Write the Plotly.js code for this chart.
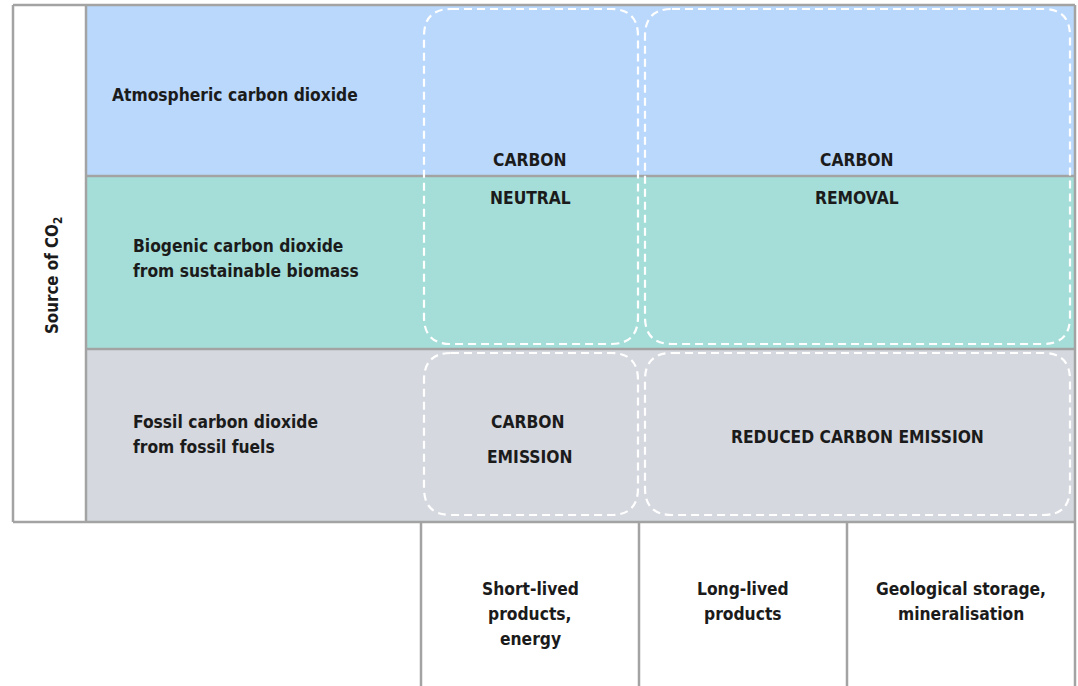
<!DOCTYPE html>
<html>
<head>
<meta charset="utf-8">
<script src="https://cdn.plot.ly/plotly-3.0.1.min.js"></script>
<style>
  html, body { margin: 0; padding: 0; background: #ffffff; }
  #chart { width: 1078px; height: 686px; }
</style>
</head>
<body>
<div id="chart"></div>
<script>
// ---- content (categories / labels) ----
const axisTitle = "Source of CO<sub>2</sub>";
const sources = [
  ["Atmospheric carbon dioxide"],
  ["Biogenic carbon dioxide", "from sustainable biomass"],
  ["Fossil carbon dioxide", "from fossil fuels"]
];
const sinks = [
  ["Short-lived", "products,", "energy"],
  ["Long-lived", "products"],
  ["Geological storage,", "mineralisation"]
];
const outcomeNeutral = ["CARBON", "NEUTRAL"];
const outcomeRemoval = ["CARBON", "REMOVAL"];
const outcomeEmission = ["CARBON", "EMISSION"];
const outcomeReduced = ["REDUCED CARBON EMISSION"];

// ---- layout geometry (pixel grid of the diagram) ----
const W = 1078, H = 686;
const frameL = 13, frameT = 5, frameR = 1075, frameB = 522;
const labelColR = 86;
const rowEdges = [5, 176, 349, 522];
const sinkEdges = [421, 639, 847, 1075];
const rowColors = ["#bad8fc", "#a5ded9", "#d5d8df"];
const gridColor = "#a3a3a3";
const textColor = "#1b1b1b";
const lineGap = 25;

// ---- pick the narrowest available bold sans font and size it to the reference ----
const ctx = document.createElement("canvas").getContext("2d");
function measure(font) { ctx.font = font; return ctx.measureText(sources[0][0]).width; }
function hasFont(f) {
  return measure(`bold 20px monospace`) !== measure(`bold 20px "${f}", monospace`) ||
         measure(`bold 20px serif`) !== measure(`bold 20px "${f}", serif`);
}
const candidates = ["Liberation Sans Narrow", "DejaVu Sans Condensed", "Arial Narrow",
                    "Roboto Condensed", "Liberation Sans", "Roboto"];
let family = "Liberation Sans";
for (const c of candidates) { if (hasFont(c)) { family = c; break; } }
const refWidth = 246;   // width of "Atmospheric carbon dioxide" in the reference
let base = 20 * refWidth / measure(`bold 20px "${family}"`);
base = Math.max(15, Math.min(21, base));
const FONT = `${family}, Liberation Sans, sans-serif`;

const shapes = [];
const annotations = [];

// row fills
sources.forEach((s, i) => {
  shapes.push({type: "rect", xref: "x", yref: "y", layer: "below",
    x0: labelColR, x1: frameR, y0: rowEdges[i], y1: rowEdges[i + 1],
    fillcolor: rowColors[i], line: {width: 0}});
});

// frame and grid lines
const line = (x0, y0, x1, y1) => shapes.push({type: "line", xref: "x", yref: "y",
  x0, y0, x1, y1, line: {color: gridColor, width: 2.5}});
line(frameL, frameT, frameR, frameT);
line(frameL, frameB, frameR, frameB);
line(frameL, frameT, frameL, frameB);
line(frameR, frameT, frameR, H);
line(labelColR, frameT, labelColR, frameB);
line(labelColR, rowEdges[1], frameR, rowEdges[1]);
line(labelColR, rowEdges[2], frameR, rowEdges[2]);
sinkEdges.slice(0, 3).forEach(x => line(x, frameB, x, H));

// dashed rounded boxes
function rounded(x0, y0, x1, y1, r) {
  return `M${x0 + r},${y0} L${x1 - r},${y0} Q${x1},${y0} ${x1},${y0 + r} ` +
         `L${x1},${y1 - r} Q${x1},${y1} ${x1 - r},${y1} L${x0 + r},${y1} ` +
         `Q${x0},${y1} ${x0},${y1 - r} L${x0},${y0 + r} Q${x0},${y0} ${x0 + r},${y0} Z`;
}
const boxes = [
  [424, 9, 638, 344],
  [645, 9, 1070, 344],
  [424, 353, 638, 515],
  [645, 353, 1070, 515]
];
boxes.forEach(b => shapes.push({type: "path", xref: "x", yref: "y",
  path: rounded(b[0], b[1], b[2], b[3], 27),
  line: {color: "#ffffff", width: 2.2, dash: "8px,5px"}}));

// text helpers
function txt(text, x, y, opts) {
  annotations.push(Object.assign({
    text, x, y, xref: "x", yref: "y", showarrow: false,
    xanchor: "center", yanchor: "middle", align: "center",
    font: {family: FONT, size: base, color: textColor, weight: 700}
  }, opts || {}));
}
function block(lines, x, yFirst, opts) {
  lines.forEach((l, k) => txt(l, x, yFirst + k * lineGap, opts));
}

// source labels
block(sources[0], 110, 95, {xanchor: "left", align: "left"});
block(sources[1], 131, 246, {xanchor: "left", align: "left"});
block(sources[2], 131, 422, {xanchor: "left", align: "left"});

// axis title
txt(axisTitle, 53, 276, {textangle: -90,
  font: {family: FONT, size: base * 0.97, color: textColor, weight: 700}});

// outcome labels
txt(outcomeNeutral[0], 530, 160);
txt(outcomeNeutral[1], 530, 198);
txt(outcomeRemoval[0], 857, 160);
txt(outcomeRemoval[1], 857, 198);
txt(outcomeEmission[0], 528, 422);
txt(outcomeEmission[1], 530, 457);
txt(outcomeReduced[0], 857, 437);

// sink labels
block(sinks[0], 530, 589);
block(sinks[1], 743, 589);
block(sinks[2], 961, 589);

const layout = {
  width: W, height: H,
  margin: {l: 0, r: 0, t: 0, b: 0},
  paper_bgcolor: "#ffffff", plot_bgcolor: "#ffffff",
  xaxis: {range: [0, W], visible: false, fixedrange: true},
  yaxis: {range: [H, 0], visible: false, fixedrange: true},
  showlegend: false,
  shapes, annotations
};

Plotly.newPlot("chart", [{x: [], y: [], type: "scatter", hoverinfo: "skip"}], layout,
  {staticPlot: true, displayModeBar: false});
</script>
</body>
</html>
